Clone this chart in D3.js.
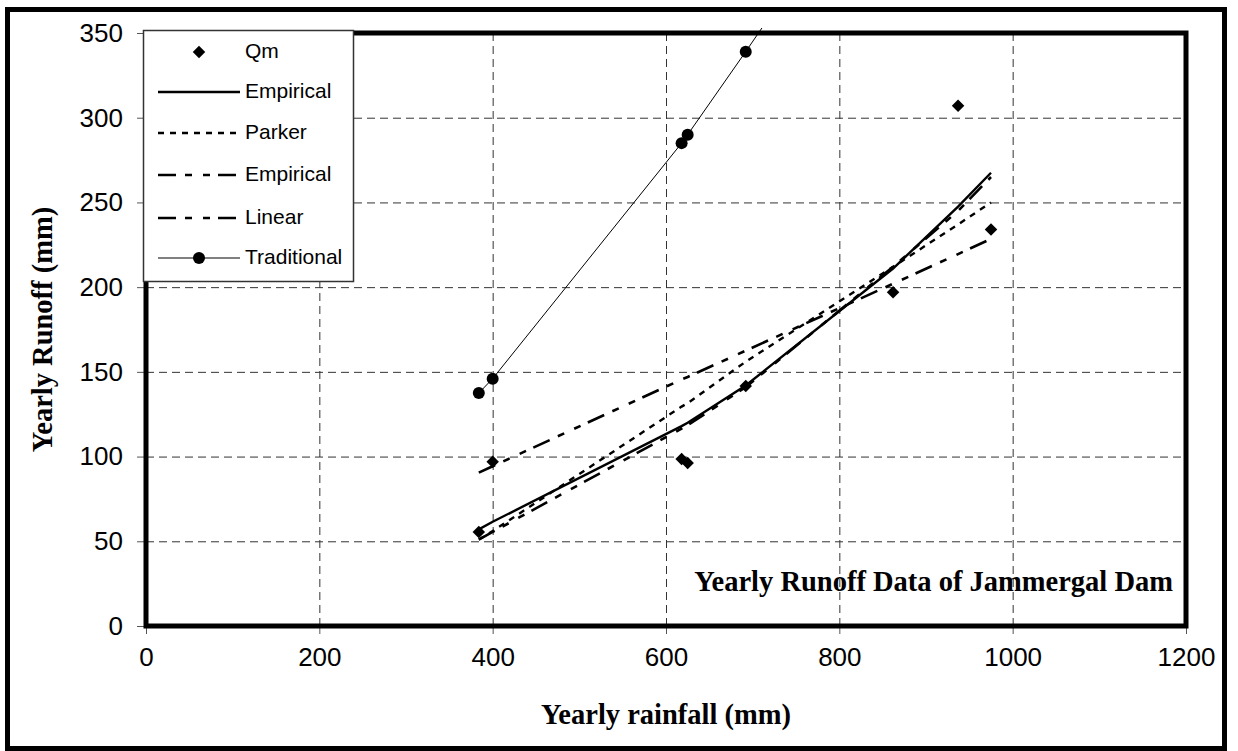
<!DOCTYPE html>
<html>
<head>
<meta charset="utf-8">
<script src="https://cdn.jsdelivr.net/npm/d3@7"></script>
<style>
  html, body { margin: 0; padding: 0; background: #fff; }
  svg { display: block; }
</style>
</head>
<body>
<svg id="chart" width="1238" height="751"></svg>
<script>
// ---- data ----
const rainfall    = [384, 400, 618, 625, 692, 862, 937, 975];
const qm          = [55.5, 97, 98.6, 96.2, 141.7, 197, 307, 234];
const empirical   = [57, 61.5, 118, 120, 142, 211, 247.5, 267.5];
const parker      = [51, 56, 129.5, 131.5, 156, 212, 237, 250];
const empirical2  = [51, 55.5, 116.5, 118.5, 141, 212, 245, 265];
const linear      = [90.5, 94.3, 145.5, 147, 162.5, 202, 219.5, 228.5];
const traditional = [137.5, 146, 285, 290, 339, 466, 525, 555];

const xTicks = [0, 200, 400, 600, 800, 1000, 1200];
const yTicks = [0, 50, 100, 150, 200, 250, 300, 350];
const legendLabels = ["Qm", "Empirical", "Parker", "Empirical", "Linear", "Traditional"];
const xTitle = "Yearly rainfall (mm)";
const yTitle = "Yearly Runoff (mm)";
const noteText = "Yearly Runoff Data of Jammergal Dam";

// ---- layout ----
const svg = d3.select("#chart");
const P = { left: 146, right: 1186, top: 33, bottom: 626 };
const x = d3.scaleLinear().domain([0, 1200]).range([P.left, P.right]);
const y = d3.scaleLinear().domain([0, 350]).range([P.bottom, P.top]);

// outer frame
svg.append("rect").attr("x", 7.5).attr("y", 9.5).attr("width", 1217).attr("height", 739)
  .attr("fill", "#fff").attr("stroke", "#000").attr("stroke-width", 5);

// gridlines
const grid = svg.append("g");
grid.selectAll("line.gx").data(xTicks.filter(d => d > 0 && d < 1200)).join("line")
  .attr("x1", d => x(d) + 0.5).attr("x2", d => x(d) + 0.5)
  .attr("y1", P.top).attr("y2", P.bottom)
  .attr("stroke", "#333").attr("stroke-width", 1).attr("stroke-dasharray", "8,5");
grid.selectAll("line.gy").data(yTicks.filter(d => d > 0 && d < 350)).join("line")
  .attr("y1", d => y(d) + 0.5).attr("y2", d => y(d) + 0.5)
  .attr("x1", P.left).attr("x2", P.right)
  .attr("stroke", "#333").attr("stroke-width", 1).attr("stroke-dasharray", "8,5");

// axes
const fmt = d3.format("d");
const xAxis = d3.axisBottom(x).tickValues(xTicks).tickFormat(fmt).tickSize(8).tickPadding(14).tickSizeOuter(0);
const gx = svg.append("g").attr("transform", `translate(0,${P.bottom})`).call(xAxis);
gx.select(".domain").remove();
gx.selectAll("line").attr("stroke", "#555");
gx.selectAll("text").attr("font-family", "Liberation Sans, Arial, sans-serif")
  .attr("font-size", 26).attr("fill", "#000").attr("dy", "0.7em");

const yAxis = d3.axisLeft(y).tickValues(yTicks).tickFormat(fmt).tickSize(9).tickPadding(14).tickSizeOuter(0);
const gy = svg.append("g").attr("transform", `translate(${P.left},0)`).call(yAxis);
gy.select(".domain").remove();
gy.selectAll("line").attr("stroke", "#555");
gy.selectAll("text").attr("font-family", "Liberation Sans, Arial, sans-serif")
  .attr("font-size", 26).attr("fill", "#000");

// clip
svg.append("clipPath").attr("id", "clip").append("rect")
  .attr("x", P.left).attr("y", P.top - 5).attr("width", P.right - P.left).attr("height", P.bottom - P.top + 5);

const plot = svg.append("g").attr("clip-path", "url(#clip)");
const line = d3.line().x(d => x(d[0])).y(d => y(d[1]));
const zip = arr => rainfall.map((r, i) => [r, arr[i]]);

const dashLong = "18,9,7,11,7,8";
const series = [
  { data: empirical2, w: 2.6, dash: dashLong },
  { data: linear, w: 2.6, dash: dashLong },
  { data: parker, w: 2.4, dash: "6,6" },
  { data: empirical, w: 2.4, dash: null },
  { data: traditional, w: 1, dash: null }
];
series.forEach(s => {
  plot.append("path").datum(zip(s.data)).attr("d", line)
    .attr("fill", "none").attr("stroke", "#000").attr("stroke-width", s.w)
    .attr("stroke-dasharray", s.dash);
});

// markers
const diamond = d3.symbol().type(d3.symbolSquare).size(78);
plot.selectAll("path.qm").data(zip(qm)).join("path")
  .attr("d", diamond).attr("transform", d => `translate(${x(d[0])},${y(d[1])}) rotate(45)`)
  .attr("fill", "#000");
plot.selectAll("circle.tr").data(zip(traditional)).join("circle")
  .attr("cx", d => x(d[0])).attr("cy", d => y(d[1])).attr("r", 6).attr("fill", "#000");

// plot border
svg.append("rect").attr("x", P.left).attr("y", P.top).attr("width", P.right - P.left)
  .attr("height", P.bottom - P.top).attr("fill", "none").attr("stroke", "#000").attr("stroke-width", 5);

// titles
const serif = "Liberation Serif, Times New Roman, serif";
svg.append("text").attr("x", (P.left + P.right) / 2).attr("y", 717)
  .attr("text-anchor", "middle").attr("dominant-baseline", "middle")
  .attr("font-family", serif).attr("font-weight", "bold")
  .attr("font-size", 28.5).text(xTitle);
svg.append("text").attr("transform", `translate(45,${(P.top + P.bottom) / 2}) rotate(-90)`)
  .attr("text-anchor", "middle").attr("dominant-baseline", "middle")
  .attr("font-family", serif).attr("font-weight", "bold")
  .attr("font-size", 28.5).text(yTitle);
svg.append("text").attr("x", 1173).attr("y", 584)
  .attr("text-anchor", "end").attr("dominant-baseline", "middle")
  .attr("font-family", serif).attr("font-weight", "bold")
  .attr("font-size", 28.5).text(noteText);

// legend
const lg = svg.append("g");
lg.append("rect").attr("x", 143.5).attr("y", 30.5).attr("width", 210).attr("height", 251)
  .attr("fill", "#fff").attr("stroke", "#333").attr("stroke-width", 1.5);
const rowsY = [52, 92, 133, 175, 218, 258];
const legendStyles = [
  { type: "diamond" },
  { w: 2.4, dash: null },
  { w: 2.4, dash: "6,6" },
  { w: 2.6, dash: dashLong },
  { w: 2.6, dash: dashLong },
  { w: 1, dash: null, circle: true }
];
legendLabels.forEach((lab, i) => {
  const ly = rowsY[i], st = legendStyles[i];
  if (st.type === "diamond") {
    lg.append("path").attr("d", diamond).attr("transform", `translate(199,${ly}) rotate(45)`).attr("fill", "#000");
  } else {
    lg.append("line").attr("x1", 158).attr("x2", 240).attr("y1", ly).attr("y2", ly)
      .attr("stroke", "#000").attr("stroke-width", st.w).attr("stroke-dasharray", st.dash);
    if (st.circle) lg.append("circle").attr("cx", 199).attr("cy", ly).attr("r", 6).attr("fill", "#000");
  }
  lg.append("text").attr("x", 245).attr("y", ly).attr("dominant-baseline", "middle")
    .attr("font-family", "Liberation Sans, Arial, sans-serif").attr("font-size", 21).text(lab);
});
</script>
</body>
</html>
